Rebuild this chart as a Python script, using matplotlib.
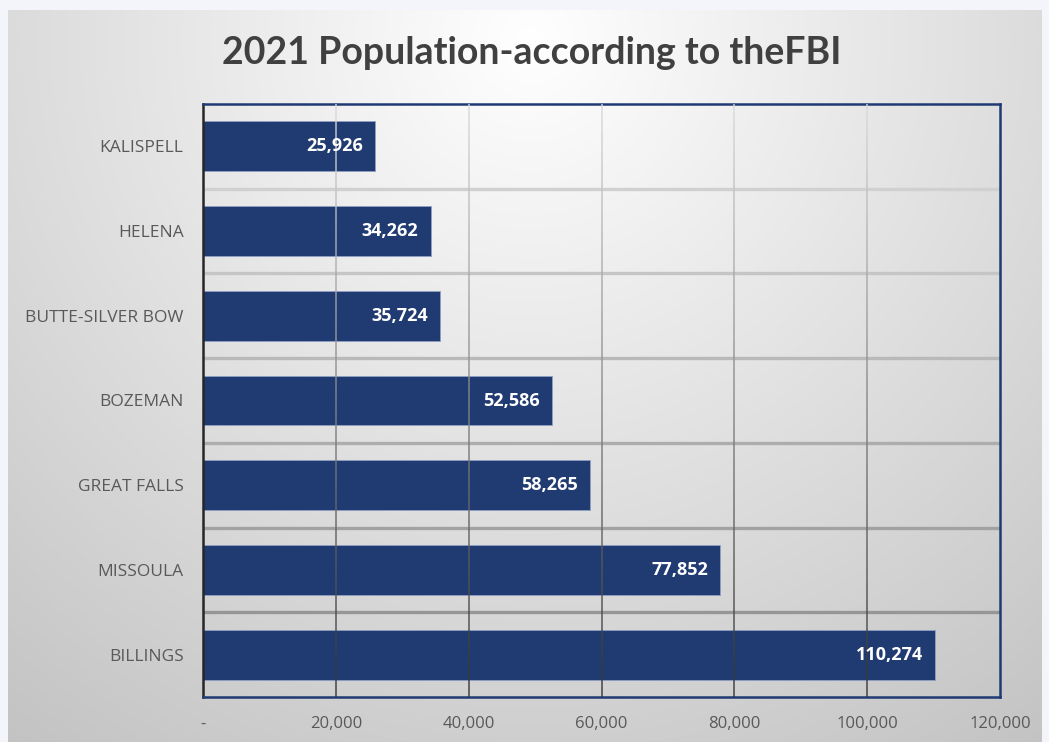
import numpy as np
import matplotlib
matplotlib.use("Agg")
import matplotlib.pyplot as plt
from matplotlib.collections import LineCollection

cities = ["KALISPELL", "HELENA", "BUTTE-SILVER BOW", "BOZEMAN",
          "GREAT FALLS", "MISSOULA", "BILLINGS"]
population = [25926, 34262, 35724, 52586, 58265, 77852, 110274]
xticks = [0, 20000, 40000, 60000, 80000, 100000, 120000]
xtick_labels = ["-", "20,000", "40,000", "60,000", "80,000", "100,000", "120,000"]

W, H = 1049, 742
fig = plt.figure(figsize=(W / 100, H / 100), dpi=100)
fig.patch.set_facecolor("#f3f5fa")

# radial grey background of the chart area
bg = fig.add_axes([8 / W, 0, (1042 - 8) / W, (H - 10) / H])
yy, xx = np.mgrid[10:H, 8:1042]
d = np.hypot(xx - 530, yy - 40)
v = np.clip(255 - 62 * d / 900, 180, 255) / 255
bg.imshow(np.dstack([v, v, v]), aspect="auto", extent=[0, 1, 0, 1])
bg.axis("off")

ax = fig.add_axes([203 / W, 1 - 697 / H, (1000 - 203) / W, (697 - 104) / H])
ax.patch.set_alpha(0)

y = np.arange(len(cities))
ax.barh(y, population, height=0.59, color="#203a72",
        edgecolor="#8fa0c4", linewidth=0.6, zorder=2)
ax.set_xlim(0, 120000)
ax.set_ylim(len(cities) - 0.5, -0.5)

# vertical gridlines, lighter at the top, darker at the bottom
n = 60
ys = np.linspace(-0.5, len(cities) - 0.5, n + 1)
for xv in xticks[1:-1]:
    segs = [[(xv, ys[i]), (xv, ys[i + 1])] for i in range(n)]
    t = np.linspace(0, 1, n)
    g = 0.85 - 0.65 * t
    cols = [(c, c, c, 0.9) for c in g]
    ax.add_collection(LineCollection(segs, colors=cols, linewidths=1.1, zorder=3))

# horizontal separators between categories
for k in range(len(cities) - 1):
    yv = k + 0.5
    g = 0.84 - 0.32 * (yv / len(cities))
    ax.axhline(yv, color=(g, g, g), linewidth=2.4, zorder=1)

for i, val in enumerate(population):
    ax.text(val - 1800, i, f"{val:,}", ha="right", va="center",
            color="white", fontsize=13, fontweight="bold",
            family="Open Sans", zorder=4)

ax.set_yticks(y)
ax.set_yticklabels(cities, family="Open Sans", fontsize=12.5, color="#595959")
ax.set_xticks(xticks)
ax.set_xticklabels(xtick_labels, family="Open Sans", fontsize=12, color="#595959")
ax.tick_params(length=0)
ax.tick_params(axis="y", pad=14)
ax.tick_params(axis="x", pad=14)

for s in ["top", "right", "bottom"]:
    ax.spines[s].set_color("#1f3a73")
    ax.spines[s].set_linewidth(1.8)
ax.spines["left"].set_color("#262626")
ax.spines["left"].set_linewidth(1.8)

fig.text(532 / W, 1 - 53 / H, "2021 Population-according to theFBI",
         ha="center", va="center", fontsize=27, fontweight="bold",
         family="Lato", color="#404040")

fig.savefig("out.png", dpi=100)
